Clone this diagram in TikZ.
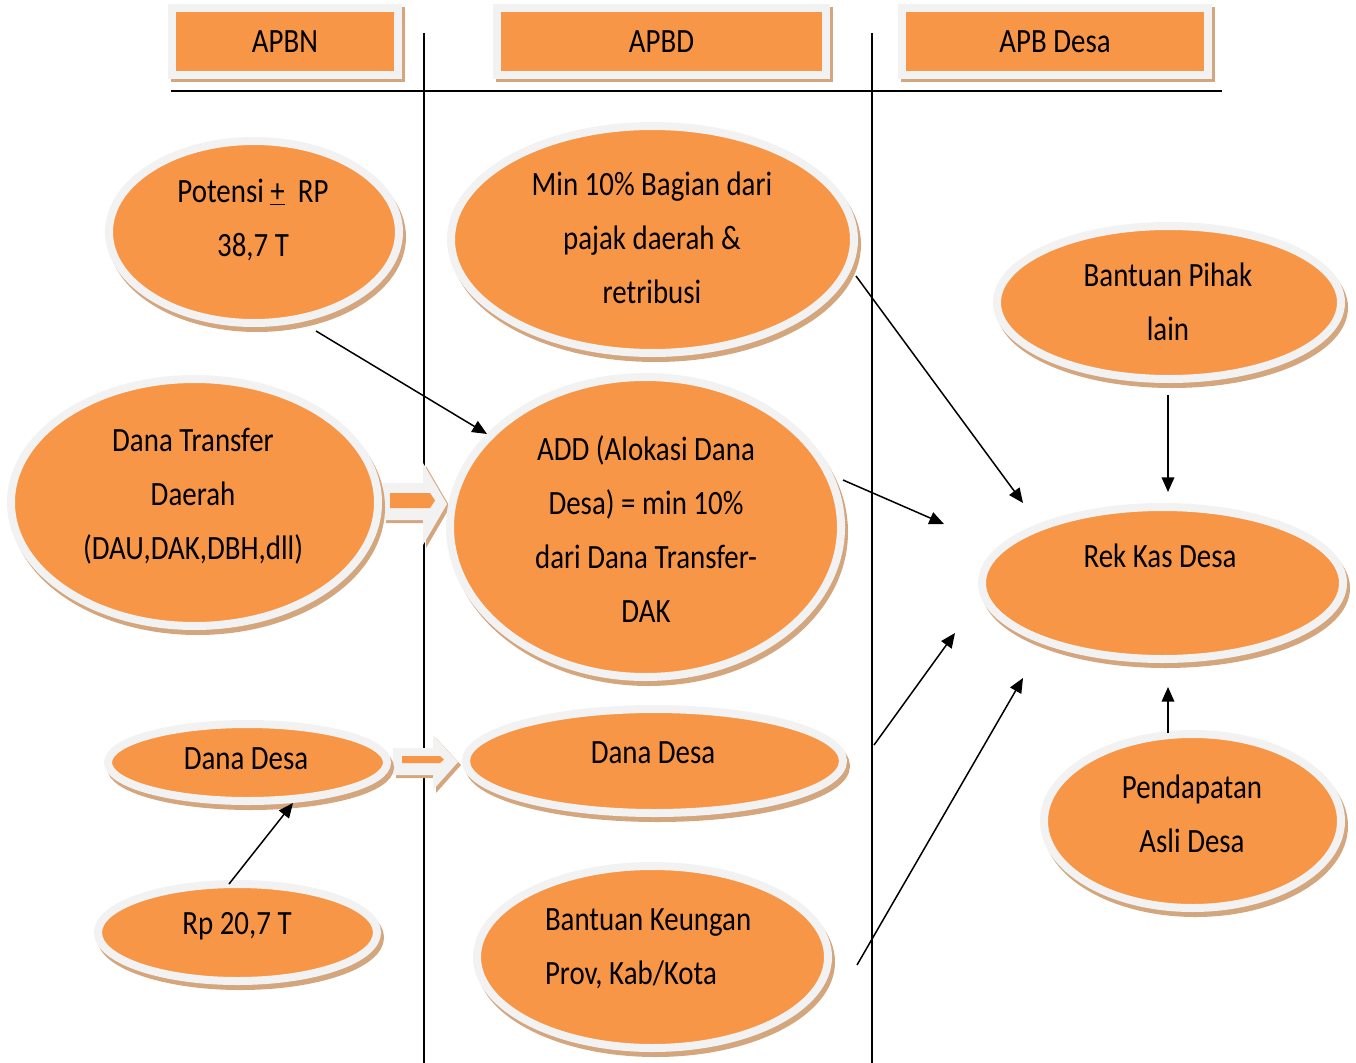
\documentclass[tikz,border=0pt]{standalone}
\usepackage{fontspec}
\setmainfont{Carlito}[FakeStretch=0.85]
\usetikzlibrary{arrows.meta,shapes.geometric,shadows}
\definecolor{oranye}{RGB}{247,150,70}
\definecolor{abu}{RGB}{242,242,242}
\definecolor{bayang}{RGB}{212,166,126}
\newcommand{\px}{0.75pt}
\newcommand{\teks}{\fontsize{25.5pt}{40.5pt}\selectfont}

\begin{document}
\begin{tikzpicture}[x=0.75pt,y=-0.75pt,line width=1.5*\px,
  every node/.style={inner sep=0pt,outer sep=0pt},
  kotak/.style={rectangle,fill=oranye,draw=abu,line width=8*\px,font=\teks,
    drop shadow={shadow xshift=3*\px,shadow yshift=-3*\px,fill=bayang,draw=bayang,opacity=1}},
  blob/.style={ellipse,fill=oranye,draw=abu,line width=8*\px,
    drop shadow={shadow xshift=3*\px,shadow yshift=-5*\px,fill=bayang,draw=bayang,opacity=1}},
  tulisan/.style={font=\teks,align=center},
  panah/.style={-{Triangle[length=11pt,width=9.5pt]}}]
  % 画布 1356×1063px，1px = 0.75pt，y 向下
  \path[use as bounding box] (0,0) rectangle (1356,1063);
  % ---- 分栏线 ----
  \coordinate (gA1) at (424,33);   \coordinate (gA2) at (424,1063);
  \coordinate (gB1) at (872,33);   \coordinate (gB2) at (872,1063);
  \coordinate (gH1) at (171,91);   \coordinate (gH2) at (1222,91);
  \draw (gA1) -- (gA2);
  \draw (gB1) -- (gB2);
  \draw[line width=2*\px] (gH1) -- (gH2);
  % ---- 表头三框（外框 px 168–402 / 493–830 / 898–1212, y 5–80）----
  \node[kotak,minimum width=226*\px,minimum height=67*\px] (apbn)   at (285,42)  {APBN};
  \node[kotak,minimum width=329*\px,minimum height=67*\px] (apbd)   at (661.5,42) {APBD};
  \node[kotak,minimum width=306*\px,minimum height=67*\px] (apbdes) at (1055,42) {APB Desa};
  % ---- 空心块箭头：灰底 + 橙芯 ----
  \fill[bayang] (386,486) -- (426,486) -- (426,466) -- (450,507) -- (426,548) -- (426,523) -- (386,523) -- cycle;
  \fill[abu]    (383,483) -- (423,483) -- (423,463) -- (447,504) -- (423,545) -- (423,520) -- (383,520) -- cycle;
  \fill[oranye] (390,493) -- (430,493) -- (435,500.5) -- (430,508) -- (390,508) -- cycle;
  \fill[bayang] (396,751) -- (436,751) -- (436,738) -- (461,765) -- (436,793) -- (436,778) -- (396,778) -- cycle;
  \fill[abu]    (393,748) -- (433,748) -- (433,735) -- (458,762) -- (433,790) -- (433,775) -- (393,775) -- cycle;
  \fill[oranye] (402,756) -- (440,756) -- (444,759.5) -- (440,763) -- (402,763) -- cycle;
  % ---- 椭圆（路径尺寸＝外沿减 8px 边框）----
  \node[blob,minimum width=290*\px,minimum height=182*\px] (potensi)  at (254,232)    {};
  \node[blob,minimum width=403*\px,minimum height=227*\px] (pajak)    at (652.5,239.5) {};
  \node[blob,minimum width=344*\px,minimum height=153*\px] (pihak)    at (1169,302.5) {};
  \node[blob,minimum width=367*\px,minimum height=247*\px] (transfer) at (194.5,502.5) {};
  \node[blob,minimum width=391*\px,minimum height=300*\px] (add)      at (645.5,527)  {};
  \node[blob,minimum width=361*\px,minimum height=152*\px] (rekkas)   at (1162.5,583) {};
  \node[blob,minimum width=279*\px,minimum height=77*\px]  (ddkiri)   at (247.5,762.5) {};
  \node[blob,minimum width=377*\px,minimum height=104*\px] (ddtengah) at (654.5,761)  {};
  \node[blob,minimum width=279*\px,minimum height=97*\px]  (rp)       at (237.5,932.5) {};
  \node[blob,minimum width=351*\px,minimum height=182*\px] (keuangan) at (652.5,957)  {};
  \node[blob,minimum width=297*\px,minimum height=174*\px] (pad)      at (1192.5,821) {};
  % ---- 椭圆内文字（中心取自源图行心）----
  \node[tulisan] (potensi-t)  at (253,220)   {Potensi \underline{+}\ \ RP\\38,7 T};
  \node[tulisan] (pajak-t)    at (652,238)   {Min 10\% Bagian dari\\pajak daerah \&\\retribusi};
  \node[tulisan] (pihak-t)    at (1168,302)  {Bantuan Pihak\\lain};
  \node[tulisan] (transfer-t) at (193,496)   {Dana Transfer\\Daerah\\(DAU,DAK,DBH,dll)};
  \node[tulisan] (add-t)      at (646,529.5) {ADD (Alokasi Dana\\Desa) = min 10\%\\dari Dana Transfer-\\DAK};
  \node[tulisan] (rekkas-t)   at (1160,556)  {Rek Kas Desa};
  \node[tulisan] (ddkiri-t)   at (246,759)   {Dana Desa};
  \node[tulisan] (ddtengah-t) at (653,753)   {Dana Desa};
  \node[tulisan] (rp-t)       at (237,926)   {Rp 20,7 T};
  \node[tulisan,align=left,anchor=west] (keuangan-t) at (545,948.5) {Bantuan Keungan\\Prov, Kab/Kota};
  \node[tulisan] (pad-t)      at (1192,814)  {Pendapatan\\Asli Desa};
  % ---- 细箭头端点 ----
  \coordinate (p1) at (316,331);   \coordinate (q1) at (487,434);
  \coordinate (p2) at (856,276);   \coordinate (q2) at (1023,503);
  \coordinate (p3) at (843,480);   \coordinate (q3) at (944,524);
  \coordinate (p4) at (1168,395);  \coordinate (q4) at (1168,492);
  \coordinate (p5) at (874,745);   \coordinate (q5) at (955,633);
  \coordinate (p6) at (857,965);   \coordinate (q6) at (1023,678);
  \coordinate (p7) at (1168,733);  \coordinate (q7) at (1168,687);
  \coordinate (p8) at (229,884);   \coordinate (q8) at (293,803);
  \foreach \i in {1,...,8} \draw[panah] (p\i) -- (q\i);
\end{tikzpicture}
\end{document}
